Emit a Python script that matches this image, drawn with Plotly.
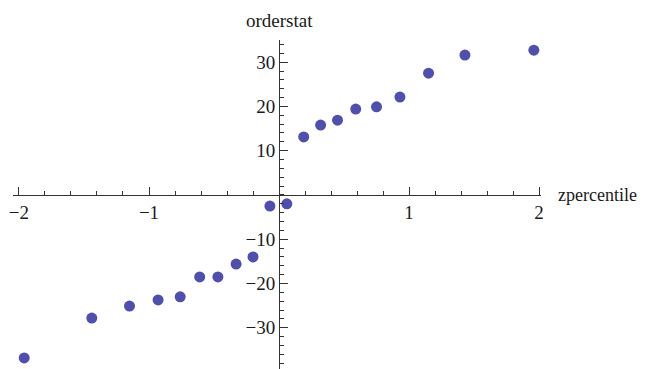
import plotly.graph_objects as go

zpercentile = [-1.96, -1.44, -1.15, -0.93, -0.76, -0.61, -0.47, -0.33, -0.20, -0.07,
               0.06, 0.19, 0.32, 0.45, 0.59, 0.75, 0.93, 1.15, 1.43, 1.96]
orderstat = [-36.8, -27.8, -25.1, -23.7, -23.0, -18.5, -18.5, -15.6, -14.0, -2.5,
             -2.0, 13.1, 15.8, 16.9, 19.4, 19.9, 22.1, 27.5, 31.6, 32.7]

x_ticks = [-2, -1, 1, 2]
x_labels = ["\u22122", "\u22121", "1", "2"]
y_ticks = [-30, -20, -10, 10, 20, 30]
y_labels = ["\u221230", "\u221220", "\u221210", "10", "20", "30"]

xr = [-2.046, 2.015]
yr = [-39.3, 35.0]

font = dict(family="Liberation Serif, Times New Roman, serif", size=19, color="#1a1a1a")
tfont = dict(family="Liberation Serif, Times New Roman, serif", size=19, color="#1a1a1a")
xtfont = dict(family="Liberation Serif, Times New Roman, serif", size=18, color="#1a1a1a")

fig = go.Figure()
fig.add_trace(go.Scatter(x=zpercentile, y=orderstat, mode="markers",
                         marker=dict(color="#5050aa", size=11), cliponaxis=False))

xpos = (0 - yr[0]) / (yr[1] - yr[0])
ypos = (0 - xr[0]) / (xr[1] - xr[0])
plot_h = 369 - 32 - 8

fig.update_layout(
    width=649, height=369,
    margin=dict(l=5, r=116, t=32, b=8),
    paper_bgcolor="white", plot_bgcolor="white",
    showlegend=False,
    font=font,
    xaxis=dict(range=xr, anchor="free", position=xpos, showgrid=False, zeroline=False,
               automargin=False,
               showline=True, linecolor="#333", linewidth=1,
               tickvals=x_ticks, ticktext=x_labels, ticks="inside", ticklen=8,
               tickcolor="#333", tickfont=font,
               minor=dict(tickvals=[round(-2 + 0.2 * i, 2) for i in range(21)],
                          ticks="inside", ticklen=4, tickcolor="#333")),
    yaxis=dict(range=yr, anchor="free", position=ypos, showgrid=False, zeroline=False,
               automargin=False,
               showline=True, linecolor="#333", linewidth=1,
               tickvals=y_ticks, ticktext=y_labels, ticks="inside", ticklen=8,
               tickcolor="#333", tickfont=font,
               minor=dict(tickvals=list(range(-38, 35, 2)),
                          ticks="inside", ticklen=4, tickcolor="#333")),
    annotations=[
        dict(text="zpercentile", xref="paper", yref="y", x=1, y=0, xanchor="left",
             yanchor="middle", xshift=15, showarrow=False, font=xtfont),
        dict(text="orderstat", xref="x", yref="paper", x=0,
             y=1 + (32 - 12) / plot_h, xanchor="center",
             yanchor="middle", showarrow=False, font=tfont),
    ],
)

fig.write_html("out.html")
